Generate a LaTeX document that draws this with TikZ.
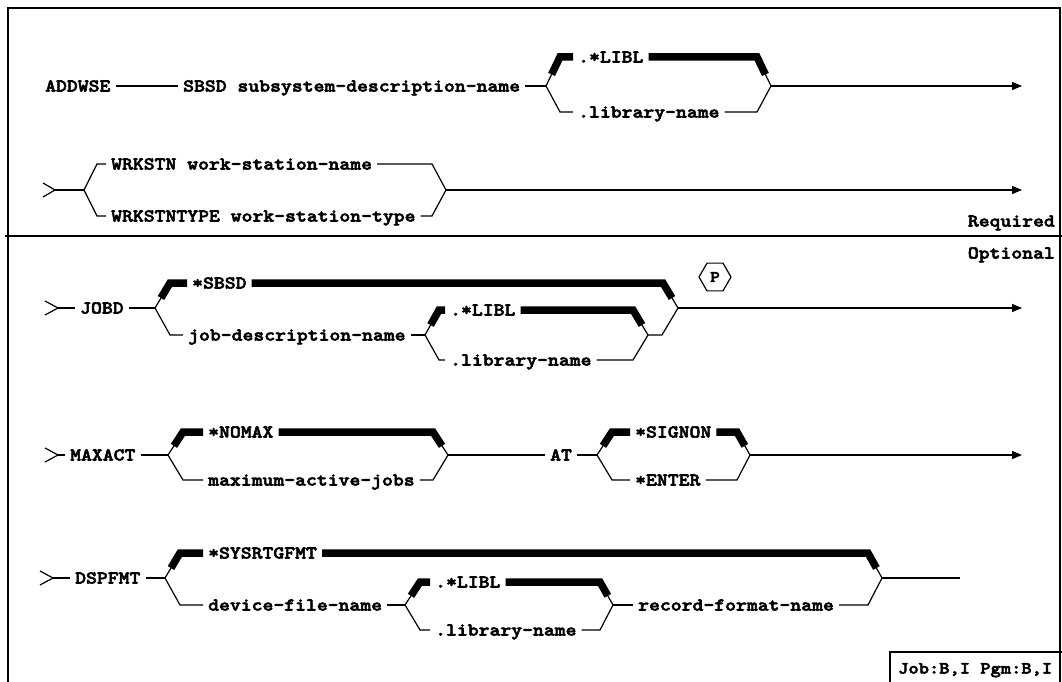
\documentclass[tikz,border=0pt]{standalone}
\usepackage{fontspec}
\newfontfamily\kwfont{lmmonolt10-bold.otf}[FakeStretch=1.15,FakeBold=3]
\usetikzlibrary{arrows.meta,calc,shapes.geometric}

\begin{document}
\begin{tikzpicture}[x=1pt,y=-1pt,>={Triangle[length=10pt,width=8pt]},
  kw/.style={font=\kwfont\fontsize{18}{20}\selectfont,inner xsep=5pt,inner ysep=0pt,
    text height=11pt,text depth=0pt,anchor=west},
  ln/.style={line width=1.2pt},
  dflt/.style={line width=7.5pt,line join=miter},
  frm/.style={line width=1.8pt}]
  \useasboundingbox (0,0) rectangle (1062,682);
  % 枠
  \draw[frm] (8,682) -- (8,8) -- (1060,8) -- (1060,682);
  \draw[frm] (5,236) -- (1062,236);
  \draw[frm] (890,682) -- (890,652) -- (1062,652);
  \node[kw,font=\kwfont\fontsize{17}{20}\selectfont] (env) at (893,668) {Job:B,I Pgm:B,I};
  \node[kw,anchor=east] (req) at (1060,221) {Required};
  \node[kw,anchor=east] (opt) at (1060,253) {Optional};

  % 1行目
  \node[kw] (addwse) at (40,86) {ADDWSE};
  \node[kw] (sbsd) at (178,86) {SBSD subsystem-description-name};
  \coordinate (f1) at (546,86);
  \coordinate (f1u) at (560,57);
  \coordinate (f1d) at (560,112);
  \node[kw] (lib1) at (573,57) {.*LIBL};
  \node[kw] (lnm1) at (573,112) {.library-name};
  \coordinate (j1u) at (757,57);
  \coordinate (j1d) at (757,112);
  \coordinate (j1) at (771,86);
  \coordinate (e1) at (1022,86);
  \draw[ln] (addwse) -- (sbsd);
  \draw[ln] (sbsd) -- (f1);
  \draw[ln] (f1) -- (f1u);
  \draw[dflt] ($(f1)!.4!(f1u)$) -- (f1u) -- (lib1.west);
  \draw[dflt] (lib1.east) -- (j1u) -- ($(j1)!.4!(j1u)$);
  \draw[ln] (j1u) -- (j1);
  \draw[ln] (f1) -- (f1d) -- (lnm1.west);
  \draw[ln] (lnm1.east) -- (j1d) -- (j1);
  \draw[ln,->] (j1) -- (e1);

  % 2行目
  \coordinate (c2) at (55,190);
  \coordinate (f2) at (84,190);
  \coordinate (f2u) at (97,164);
  \coordinate (f2d) at (97,216);
  \node[kw] (wst) at (106,164) {WRKSTN work-station-name};
  \node[kw] (wtp) at (106,216) {WRKSTNTYPE work-station-type};
  \coordinate (j2u) at (432,164);
  \coordinate (j2d) at (432,216);
  \coordinate (j2) at (446,190);
  \coordinate (e2) at (1022,190);
  \draw[ln] (43,183) -- (c2) -- (43,197);
  \draw[ln] (c2) -- (f2);
  \draw[ln] (f2) -- (f2u) -- (wst.west);
  \draw[ln] (f2) -- (f2d) -- (wtp.west);
  \draw[ln] (wst.east) -- (j2u) -- (j2);
  \draw[ln] (wtp.east) -- (j2d) -- (j2);
  \draw[ln,->] (j2) -- (e2);

  % JOBD
  \coordinate (c3) at (58,308);
  \node[kw] (jobd) at (75,308) {JOBD};
  \coordinate (f3) at (155,308);
  \coordinate (f3u) at (170,283);
  \coordinate (f3d) at (170,335);
  \node[kw] (sbsd2) at (187,283) {*SBSD};
  \node[kw] (jdn) at (183,335) {job-description-name};
  \coordinate (f4) at (425,335);
  \coordinate (f4u) at (439,310);
  \coordinate (f4d) at (439,360);
  \node[kw] (lib3) at (445,310) {.*LIBL};
  \node[kw] (lnm3) at (445,360) {.library-name};
  \coordinate (j4u) at (633,310);
  \coordinate (j4d) at (633,360);
  \coordinate (j4) at (648,335);
  \coordinate (j4e) at (662,335);
  \coordinate (j3u) at (663,283);
  \coordinate (j3) at (678,308);
  \coordinate (e3) at (1022,308);
  \node[draw,ln,regular polygon,regular polygon sides=6,minimum size=32pt,inner sep=0pt,
    font=\kwfont\fontsize{16}{16}\selectfont] (pmark) at (715,277) {P};
  \draw[ln] (45,301) -- (c3) -- (45,315);
  \draw[ln] (c3) -- (jobd);
  \draw[ln] (jobd) -- (f3);
  \draw[ln] (f3) -- (f3u);
  \draw[dflt] ($(f3)!.4!(f3u)$) -- (f3u) -- (sbsd2.west);
  \draw[dflt] (sbsd2.east) -- (j3u) -- ($(j3)!.4!(j3u)$);
  \draw[ln] (j3u) -- (j3);
  \draw[ln] (f3) -- (f3d) -- (jdn.west);
  \draw[ln] (jdn.east) -- (f4);
  \draw[ln] (f4) -- (f4u);
  \draw[dflt] ($(f4)!.4!(f4u)$) -- (f4u) -- (lib3.west);
  \draw[dflt] (lib3.east) -- (j4u) -- ($(j4)!.4!(j4u)$);
  \draw[ln] (j4u) -- (j4);
  \draw[ln] (f4) -- (f4d) -- (lnm3.west);
  \draw[ln] (lnm3.east) -- (j4d) -- (j4);
  \draw[ln] (j4) -- (j4e) -- (j3);
  \draw[ln,->] (j3) -- (e3);

  % MAXACT
  \coordinate (c4) at (58,455);
  \node[kw] (maxact) at (65,455) {MAXACT};
  \coordinate (f5) at (168,455);
  \coordinate (f5u) at (183,432);
  \coordinate (f5d) at (183,480);
  \node[kw] (nomax) at (203,432) {*NOMAX};
  \node[kw] (maxjob) at (203,480) {maximum-active-jobs};
  \coordinate (j5u) at (433,432);
  \coordinate (j5d) at (433,480);
  \coordinate (j5) at (448,455);
  \node[kw] (at) at (545,455) {AT};
  \coordinate (f6) at (597,455);
  \coordinate (f6u) at (612,432);
  \coordinate (f6d) at (612,480);
  \node[kw] (signon) at (630,432) {*SIGNON};
  \node[kw] (enter) at (630,480) {*ENTER};
  \coordinate (j6u) at (737,432);
  \coordinate (j6d) at (737,480);
  \coordinate (j6) at (750,455);
  \coordinate (e4) at (1022,455);
  \draw[ln] (45,448) -- (c4) -- (45,462);
  \draw[ln] (c4) -- (maxact);
  \draw[ln] (maxact) -- (f5);
  \draw[ln] (f5) -- (f5u);
  \draw[dflt] ($(f5)!.4!(f5u)$) -- (f5u) -- (nomax.west);
  \draw[dflt] (nomax.east) -- (j5u) -- ($(j5)!.4!(j5u)$);
  \draw[ln] (j5u) -- (j5);
  \draw[ln] (f5) -- (f5d) -- (maxjob.west);
  \draw[ln] (maxjob.east) -- (j5d) -- (j5);
  \draw[ln] (j5) -- (at);
  \draw[ln] (at) -- (f6);
  \draw[ln] (f6) -- (f6u);
  \draw[dflt] ($(f6)!.4!(f6u)$) -- (f6u) -- (signon.west);
  \draw[dflt] (signon.east) -- (j6u) -- ($(j6)!.4!(j6u)$);
  \draw[ln] (j6u) -- (j6);
  \draw[ln] (f6) -- (f6d) -- (enter.west);
  \draw[ln] (enter.east) -- (j6d) -- (j6);
  \draw[ln,->] (j6) -- (e4);

  % DSPFMT
  \coordinate (c5) at (53,578);
  \node[kw] (dspfmt) at (70,578) {DSPFMT};
  \coordinate (f7) at (165,578);
  \coordinate (f7u) at (180,553);
  \coordinate (f7d) at (180,605);
  \node[kw] (sysrtg) at (203,553) {*SYSRTGFMT};
  \node[kw] (dfn) at (203,605) {device-file-name};
  \coordinate (f8) at (405,605);
  \coordinate (f8u) at (420,582);
  \coordinate (f8d) at (420,630);
  \node[kw] (lib5) at (430,582) {.*LIBL};
  \node[kw] (lnm5) at (430,630) {.library-name};
  \coordinate (j8u) at (600,582);
  \coordinate (j8d) at (600,630);
  \coordinate (j8) at (613,605);
  \node[kw] (rfn) at (633,605) {record-format-name};
  \coordinate (j7u) at (868,553);
  \coordinate (j7d) at (868,605);
  \coordinate (j7) at (882,578);
  \coordinate (e5) at (960,578);
  \draw[ln] (40,571) -- (c5) -- (40,585);
  \draw[ln] (c5) -- (dspfmt);
  \draw[ln] (dspfmt) -- (f7);
  \draw[ln] (f7) -- (f7u);
  \draw[dflt] ($(f7)!.4!(f7u)$) -- (f7u) -- (sysrtg.west);
  \draw[dflt] (sysrtg.east) -- (j7u) -- ($(j7)!.4!(j7u)$);
  \draw[ln] (j7u) -- (j7);
  \draw[ln] (f7) -- (f7d) -- (dfn.west);
  \draw[ln] (dfn.east) -- (f8);
  \draw[ln] (f8) -- (f8u);
  \draw[dflt] ($(f8)!.4!(f8u)$) -- (f8u) -- (lib5.west);
  \draw[dflt] (lib5.east) -- (j8u) -- ($(j8)!.4!(j8u)$);
  \draw[ln] (j8u) -- (j8);
  \draw[ln] (f8) -- (f8d) -- (lnm5.west);
  \draw[ln] (lnm5.east) -- (j8d) -- (j8);
  \draw[ln] (j8) -- (rfn);
  \draw[ln] (rfn.east) -- (j7d) -- (j7);
  \draw[ln] (j7) -- (e5);
\end{tikzpicture}
\end{document}
